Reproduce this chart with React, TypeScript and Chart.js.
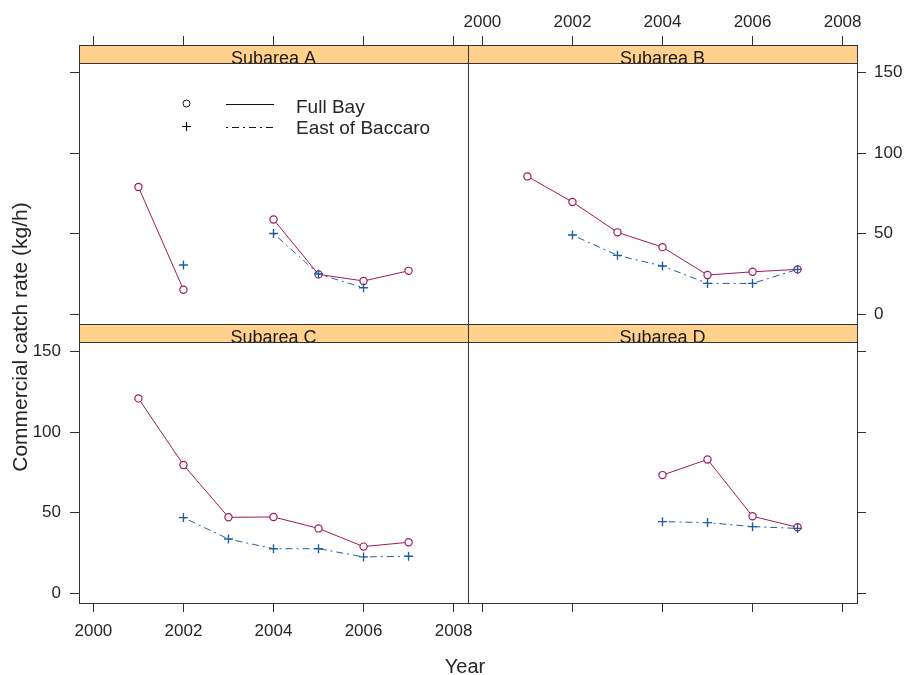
import React, { useEffect, useRef } from "react";
import { Chart, registerables } from "chart.js";

Chart.register(...registerables);

// ---------- data ----------
const YEARS = [2001, 2002, 2003, 2004, 2005, 2006, 2007];
const X_TICKS = [2000, 2002, 2004, 2006, 2008];
const Y_TICKS = [0, 50, 100, 150];
const X_MIN = 1999.68;
const X_MAX = 2008.32;
const Y_MIN = -6;
const Y_MAX = 156;

const SERIES_NAMES = ["Full Bay", "East of Baccaro"];
const PANEL_TITLES = ["Subarea A", "Subarea B", "Subarea C", "Subarea D"];
const X_TITLE = "Year";
const Y_TITLE = "Commercial catch rate (kg/h)";

const A_FULL = [79, 15.3, null, 58.9, 24.8, 20.7, 27];
const A_EAST = [null, 30.6, null, 50.2, 25, 16.5, null];
const B_FULL = [85.6, 69.7, 50.9, 41.7, 24.4, 26.4, 27.9];
const B_EAST = [null, 49.2, 36.6, 30, 19.2, 19.2, 27.9];
const C_FULL = [121, 79.7, 47.2, 47.4, 40.3, 29, 31.7];
const C_EAST = [null, 47, 33.7, 27.7, 27.7, 22.6, 23];
const D_FULL = [null, null, null, 73.4, 83.1, 47.8, 41];
const D_EAST = [null, null, null, 44.5, 43.9, 41.4, 40.3];

// ---------- style ----------
const W = 904;
const H = 675;
const FONT = '"Liberation Sans", Arial, sans-serif';
const FULL_COLOR = "#9E1A5C";
const EAST_COLOR = "#20609E";
const STRIP_COLOR = "#FFD18C";
const FRAME_COLOR = "#333333";
const TEXT_COLOR = "#262626";
const STRIP_H = 18;
const TICK_LEN = 9;
const DASH = [2, 4, 7, 4];

type Panel = {
  title: string;
  full: (number | null)[];
  east: (number | null)[];
  xPos: "top" | "bottom";
  xLabels: boolean;
  yPos: "left" | "right";
  yLabels: boolean;
  area: { left: number; top: number; right: number; bottom: number };
  legend?: boolean;
  titles?: boolean;
};

const PANELS: Panel[] = [
  { title: PANEL_TITLES[0], full: A_FULL, east: A_EAST, xPos: "top", xLabels: false, yPos: "left", yLabels: false, area: { left: 79, top: 63, right: 468, bottom: 324 }, legend: true },
  { title: PANEL_TITLES[1], full: B_FULL, east: B_EAST, xPos: "top", xLabels: true, yPos: "right", yLabels: true, area: { left: 468, top: 63, right: 857, bottom: 324 } },
  { title: PANEL_TITLES[2], full: C_FULL, east: C_EAST, xPos: "bottom", xLabels: true, yPos: "left", yLabels: true, area: { left: 79, top: 342, right: 468, bottom: 603 }, titles: true },
  { title: PANEL_TITLES[3], full: D_FULL, east: D_EAST, xPos: "bottom", xLabels: false, yPos: "right", yLabels: false, area: { left: 468, top: 342, right: 857, bottom: 603 } },
];

function decorPlugin(p: Panel) {
  return {
    id: "latticeDecor",
    afterDraw(chart: any) {
      const ctx = chart.ctx as CanvasRenderingContext2D;
      const a = chart.chartArea;
      const L = Math.round(a.left) + 0.5;
      const R = Math.round(a.right) + 0.5;
      const T = Math.round(a.top) + 0.5;
      const B = Math.round(a.bottom) + 0.5;
      const ST = T - STRIP_H;
      ctx.save();
      // strip
      ctx.fillStyle = STRIP_COLOR;
      ctx.fillRect(L, ST, R - L, STRIP_H);
      ctx.fillStyle = "#1a1a1a";
      ctx.font = `18px ${FONT}`;
      ctx.textAlign = "center";
      ctx.textBaseline = "alphabetic";
      ctx.fillText(p.title, (a.left + a.right) / 2, a.top + 0.5);
      // frame
      ctx.strokeStyle = FRAME_COLOR;
      ctx.lineWidth = 1;
      ctx.strokeRect(L, ST, R - L, B - ST);
      ctx.beginPath();
      ctx.moveTo(L, T);
      ctx.lineTo(R, T);
      ctx.stroke();

      if (p.legend) {
        ctx.strokeStyle = "#111";
        ctx.fillStyle = TEXT_COLOR;
        ctx.lineWidth = 1;
        // circle
        ctx.beginPath();
        ctx.arc(186.5, 103.5, 3.5, 0, Math.PI * 2);
        ctx.stroke();
        ctx.beginPath();
        ctx.moveTo(226, 104.5);
        ctx.lineTo(274, 104.5);
        ctx.stroke();
        // plus
        ctx.lineWidth = 1.2;
        ctx.beginPath();
        ctx.moveTo(182, 126.5);
        ctx.lineTo(191, 126.5);
        ctx.moveTo(186.5, 122);
        ctx.lineTo(186.5, 131);
        ctx.stroke();
        ctx.lineWidth = 1;
        ctx.setLineDash(DASH);
        ctx.beginPath();
        ctx.moveTo(226, 127.5);
        ctx.lineTo(274, 127.5);
        ctx.stroke();
        ctx.setLineDash([]);
        ctx.font = `19px ${FONT}`;
        ctx.textAlign = "left";
        ctx.textBaseline = "alphabetic";
        ctx.fillText(SERIES_NAMES[0], 296, 113);
        ctx.fillText(SERIES_NAMES[1], 296, 134);
      }

      if (p.titles) {
        ctx.fillStyle = TEXT_COLOR;
        ctx.font = `20px ${FONT}`;
        ctx.textAlign = "center";
        ctx.textBaseline = "alphabetic";
        ctx.fillText(X_TITLE, 465, 673);
        ctx.save();
        ctx.font = `21px ${FONT}`;
        ctx.translate(26.5, 337);
        ctx.rotate(-Math.PI / 2);
        ctx.fillText(Y_TITLE, 0, 0);
        ctx.restore();
      }
      ctx.restore();
    },
  };
}

function makeConfig(p: Panel): any {
  const xSize = p.xPos === "top" ? p.area.top : H - p.area.bottom;
  const ySize = p.yPos === "left" ? p.area.left : W - p.area.right;
  const padding = {
    top: p.xPos === "top" ? 0 : p.area.top,
    bottom: p.xPos === "bottom" ? 0 : H - p.area.bottom,
    left: p.yPos === "left" ? 0 : p.area.left,
    right: p.yPos === "right" ? 0 : W - p.area.right,
  };
  const toPts = (arr: (number | null)[]) => YEARS.map((x, i) => ({ x, y: arr[i] }));
  return {
    type: "line",
    data: {
      datasets: [
        {
          label: SERIES_NAMES[1],
          data: toPts(p.east),
          borderColor: EAST_COLOR,
          borderWidth: 1,
          borderDash: DASH,
          pointStyle: "cross",
          pointRadius: 4.5,
          pointBorderWidth: 1.4,
          pointBorderColor: EAST_COLOR,
          pointBackgroundColor: EAST_COLOR,
          spanGaps: false,
          tension: 0,
          fill: false,
        },
        {
          label: SERIES_NAMES[0],
          data: toPts(p.full),
          borderColor: FULL_COLOR,
          borderWidth: 1,
          pointStyle: "circle",
          pointRadius: 3.6,
          pointBorderWidth: 1.2,
          pointBorderColor: FULL_COLOR,
          pointBackgroundColor: "#ffffff",
          spanGaps: false,
          tension: 0,
          fill: false,
        },
      ],
    },
    options: {
      responsive: false,
      animation: false,
      events: [],
      layout: { padding },
      plugins: { legend: { display: false }, tooltip: { enabled: false } },
      scales: {
        x: {
          type: "linear",
          position: p.xPos,
          min: X_MIN,
          max: X_MAX,
          afterBuildTicks: (s: any) => {
            s.ticks = X_TICKS.map((v) => ({ value: v }));
          },
          afterFit: (s: any) => {
            s.height = xSize;
          },
          grid: {
            display: true,
            drawOnChartArea: false,
            drawTicks: true,
            tickLength: p.xPos === "top" ? TICK_LEN + STRIP_H : TICK_LEN,
            color: FRAME_COLOR,
            lineWidth: 1,
          },
          border: { display: false },
          ticks: {
            display: p.xLabels,
            autoSkip: false,
            maxRotation: 0,
            minRotation: 0,
            padding: p.xPos === "top" ? 3 : 9,
            color: TEXT_COLOR,
            font: { family: FONT, size: 17 },
            callback: (v: any) => String(v),
          },
        },
        y: {
          type: "linear",
          position: p.yPos,
          min: Y_MIN,
          max: Y_MAX,
          afterBuildTicks: (s: any) => {
            s.ticks = Y_TICKS.map((v) => ({ value: v }));
          },
          afterFit: (s: any) => {
            s.width = ySize;
          },
          grid: {
            display: true,
            drawOnChartArea: false,
            drawTicks: true,
            tickLength: TICK_LEN,
            color: FRAME_COLOR,
            lineWidth: 1,
          },
          border: { display: false },
          ticks: {
            display: p.yLabels,
            autoSkip: false,
            padding: p.yPos === "left" ? 9 : 8,
            color: TEXT_COLOR,
            font: { family: FONT, size: 17 },
            callback: (v: any) => String(v),
          },
        },
      },
    },
    plugins: [decorPlugin(p)],
  };
}

export default function App() {
  const r0 = useRef<HTMLCanvasElement>(null);
  const r1 = useRef<HTMLCanvasElement>(null);
  const r2 = useRef<HTMLCanvasElement>(null);
  const r3 = useRef<HTMLCanvasElement>(null);
  const refs = [r0, r1, r2, r3];

  useEffect(() => {
    const charts = PANELS.map((p, i) => new Chart(refs[i].current as HTMLCanvasElement, makeConfig(p)));
    return () => charts.forEach((c) => c.destroy());
  }, []);

  return (
    <div style={{ position: "absolute", left: 0, top: 0, width: W, height: H, background: "#ffffff" }}>
      {PANELS.map((p, i) => (
        <canvas
          key={p.title}
          ref={refs[i]}
          width={W}
          height={H}
          style={{ position: "absolute", left: 0, top: 0, width: W, height: H }}
        />
      ))}
    </div>
  );
}
